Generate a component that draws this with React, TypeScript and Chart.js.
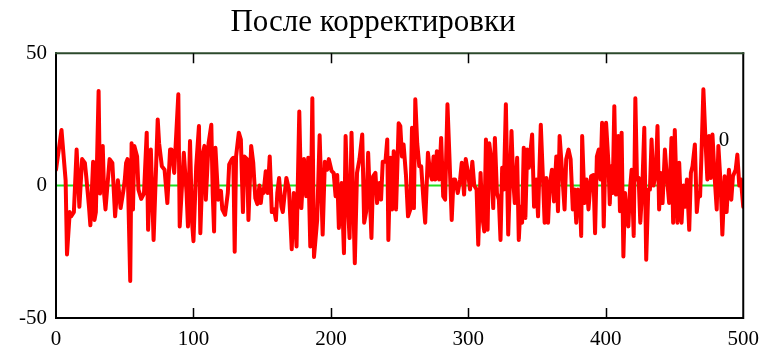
import React, { useEffect, useRef } from "react";
import { Chart, registerables } from "chart.js";

Chart.register(...registerables);

const TITLE = "После корректировки";
const X_TICKS = [0, 100, 200, 300, 400, 500];
const Y_TICKS = [-50, 0, 50];
const MARKER_LEVEL = 0;
const MARKER_LABEL = "0";
const MARKER_LABEL_AT = [486, 17];

const sampleX = [
  0, 4, 7, 8, 10, 11, 13, 15, 17, 19, 21, 22, 24, 25, 27, 28, 29, 31, 32, 34, 35, 36, 39, 41, 43, 45,
  47, 49, 50, 51, 52, 54, 55, 56, 57, 59, 60, 62, 64, 66, 67, 69, 71, 74, 75, 77, 79, 81, 83, 84, 86, 89, 90, 93, 95, 96,
  97.5, 99, 100, 102, 104, 105, 107, 108, 109, 111, 113, 114, 115, 116, 118, 120, 121, 123, 125, 126, 128, 129, 130, 131,
  133, 134.5, 136, 137, 139, 140, 142, 143.5, 145, 146.5, 148,
  149, 150, 151, 152.6, 154, 155.5, 157, 158.7, 160, 161, 162.3, 164, 165, 167.6, 169.5, 171.5, 173, 175, 177, 178.5,
  180.4, 182, 183.5, 185, 186.5, 187.7, 190, 191.8, 194, 195.6, 197.3, 198.5, 200.5,
  202, 203.4, 204.6, 205.8, 207.8, 209.5, 210.7, 212, 213.6, 215, 216.2, 217.4, 219, 220.8, 222.8, 224.2, 225.7, 227.1,
  229.5, 230.7, 232.4, 233.6, 235.3, 236.5, 237.7, 239.7, 241, 241.8, 243.3, 244.5, 245.7, 247.4, 249.3,
  250.5, 251.7, 252.9, 254.6, 256.1, 257.8, 259, 260.4, 261.4, 262.8, 264.3, 265.7, 267.4, 268.6, 270.6, 272.2, 273.5,
  274.7, 275.9, 277.1, 278.8, 280.2, 281.7, 283.1, 284.8, 286.3, 287.9, 289.2, 290.4, 292.3, 294, 295.2, 296.9, 298.1, 300,
  301.2, 302.9, 304.3, 306, 307.2, 308.9, 310.1, 311.6, 312.8, 314, 315.2, 316.4, 318.1, 319.3, 320.8, 322.2, 323.4,
  324.6, 325.8, 327.3, 329, 330.2, 331.4, 332.6, 333.8, 335.5, 336.7, 337.9, 339.1, 340.3, 341.5, 342.8, 344, 346.4,
  347.8, 349.5, 350.7, 352.7,
  354.3, 355.5, 356.7, 358, 359.2, 360.8, 362.3, 364, 365.2, 366.4, 368.1, 370, 371.2, 372.9, 374.4, 376, 377.3, 378.5,
  379.7, 381.1, 382.1, 382.8, 384.5, 386, 387.4, 389.3, 391, 392.2, 393.5, 394.9, 396.1, 397.3, 398.5, 400.2, 401.9, 402.9,
  403.8, 405, 406.2, 407.4, 409.1, 410.3, 411.5, 412.8, 414, 415.2, 416.4, 417.6, 418.8, 420.3, 421.5, 422.7, 423.9,
  425.1, 426.5, 428, 429.4, 430.9, 432.1, 433.3, 434.7, 436.4, 437.6, 438.8, 440, 441.3, 443, 444.4, 446.1, 447.8, 449,
  450.2, 452.1,
  453.4, 455.1, 456.5, 457.8, 459, 460.7, 461.9, 463.1, 464.8, 466.2, 467.4, 468.6, 469.6, 471, 472.7, 473.9, 475.1,
  476.4, 477.6, 479.3, 480.7, 481.9, 483.6, 484.8, 486.5, 487.9, 489.6, 491.3, 492.5, 494.5, 495.7, 497.1, 498.3, 500,
];

const sampleY = [
  6, 21, 2, -26, -10, -11.6, -10, 13.6, -8, 10, 8.6, 3.5, -8, -15, 9, -13, -10, 35.7, -3, 15, -3, -9, 10, 8.6, -11.6, 2,
  -8.5, -2, 2, 8.6, 10, -36, 16, -9, 15, 11, -1.5, -5, -3, 20, -16.7, 13.6, -20.5, 25, 16, 7.3, 6, -6.6, 13.6, 13.6, 4.8, 34.5, -15.4, 12.4, -2.8, -15.4,
  16.8, -14, -21, 7.3, 22.5, -18, 12.4, 15, -5.3, 16, 23, -2.8, -17.3, 14.3, -5.3, -2, -9, -11, -2.8, 8, 10, 10.5, -25, 11,
  20, 17.4, -10, 11, 10, -13, 15, 8.6, -4.7, -7, 0,
  -6.6, -1.5, -2.8, 5.4, -2.8, 11, -10, -9, -13, -2.8, 2.9, -8, -10, 2.9, -1.5, -24, -2.8, -23, 28, -8.5,
  10, -4, 10.5, -23, 33, -27, -13, 19, -18.5, 9, 6, 10, 5.5,
  4.8, -4, 4, -16, 1, -25.5, 18.7, -4, -19.8, 20, -4, -29.3, 4.8, 10, 19.3, -14, -9.7, 12.4,
  -19.8, 3.5, 4.8, -6.6, 1, -5.3, 9, 9, 17.4, -20.5, 10.5, -9, 13, -9, 23.5,
  22.5, 11, 15.5, 4, -11.6, -9, 21.8, -8.5, 32.6, 16, 7.3, 7.3, -6, -14, 12.4, 4.8, 2.3,
  11, 2.3, 13, 2.3, 18, -4, -5.3, 30.7, 10, -13, 2.3, 2.3, -2.8, 2.3, 8.6, -3.4, 10, 4,
  -1.5, 9, 0, -1.5, -22.3, 4.8, -11.6, -17.3, 17.4, -16.7, 16, 11, -8.5, 18, -2.8, -5.3, -20.5,
  6.7, -1.5, 30.7, -18.5, 1, 20.6, 2.3, -6.6, 10.5, -20.5, -8, -14, 14.3, -12.2, 13.6, 6.7, 19.3,
  -8, 2.3, -11.6, 23,
  2.3, -14, 2.9, -14, 0, 6, -6, 11, -9.7, 18.7, 6, -9, 10, 13.6, 10, -9, -1.5, -14,
  -1.5, -4, -19, 18.7, -6.6, 2.3, -9, 3.5, 4, -18, 11, 13.6, 2.3, 23.7, -15.4, 23.7, 8.6, -7,
  7.3, -2.8, 30, -3.4, 18.7, -9.7, 20, -26.8, -2.8, -11.6, -15.4, -1.5, 6, -19, 33, 2.3, 2.9,
  -14, -1.5, 21.8, -28, -1.5, -1.5, 17.4, 0, 4.8, 22.5, -9, 4.8, -6.6, 13.6, 3.5, -6.6, 18, -14,
  21, -14,
  8.6, -14, 0, -8, 2.3, -16.7, 4.8, 7.3, 15.5, -10, -2.8, -4, 11.7, 36.4, 15, 2.3, 18.7,
  2.9, 19.3, 2.3, -9, 15, 0, -18.5, 3.5, -10, 6, -5.3, 3.5, 6, 11.7, 0, 2.3, -8,
];

const FONT = "'Liberation Serif', 'Times New Roman', serif";

const framePlugin = {
  id: "frame",
  afterDatasetsDraw(chart: any) {
    const { ctx, chartArea: a, scales } = chart;
    const xs = scales.x;
    const ys = scales.y;
    ctx.save();
    ctx.lineCap = "square";
    ctx.lineWidth = 2;
    ctx.strokeStyle = "#000000";
    ctx.beginPath();
    ctx.moveTo(a.left, a.top);
    ctx.lineTo(a.left, a.bottom);
    ctx.lineTo(a.right, a.bottom);
    ctx.lineTo(a.right, a.top);
    ctx.stroke();
    ctx.strokeStyle = "#2c4a2c";
    ctx.beginPath();
    ctx.moveTo(a.left, a.top);
    ctx.lineTo(a.right, a.top);
    ctx.stroke();
    ctx.strokeStyle = "#000000";
    ctx.lineWidth = 1.5;
    ctx.lineCap = "butt";
    X_TICKS.slice(1, -1).forEach((v) => {
      const px = Math.round(xs.getPixelForValue(v)) + 0.5;
      ctx.beginPath();
      ctx.moveTo(px, a.bottom);
      ctx.lineTo(px, a.bottom - 10);
      ctx.moveTo(px, a.top);
      ctx.lineTo(px, a.top + 10);
      ctx.stroke();
    });
    ctx.fillStyle = "#000000";
    ctx.font = "21px " + FONT;
    ctx.textAlign = "center";
    ctx.textBaseline = "middle";
    ctx.fillText(
      MARKER_LABEL,
      xs.getPixelForValue(MARKER_LABEL_AT[0]),
      ys.getPixelForValue(MARKER_LABEL_AT[1])
    );
    ctx.restore();
  },
};

export default function App() {
  const ref = useRef<HTMLCanvasElement | null>(null);
  useEffect(() => {
    document.body.style.margin = "0";
    const canvas = ref.current!;
    const points = sampleX.map((x, i) => ({ x, y: sampleY[i] }));
    const chart = new Chart(canvas, {
      type: "line",
      data: {
        datasets: [
          {
            data: points,
            borderColor: "#ff0000",
            borderWidth: 4,
            borderJoinStyle: "round",
            borderCapStyle: "round",
            pointRadius: 0,
            tension: 0,
            order: 1,
          },
          {
            data: [
              { x: X_TICKS[0], y: MARKER_LEVEL },
              { x: X_TICKS[X_TICKS.length - 1], y: MARKER_LEVEL },
            ],
            borderColor: "#22dd22",
            borderWidth: 2,
            pointRadius: 0,
            order: 2,
          },
        ],
      },
      options: {
        animation: false,
        responsive: false,
        events: [],
        layout: { padding: { left: 0, right: 22, top: 0, bottom: 0 } },
        plugins: {
          legend: { display: false },
          tooltip: { enabled: false },
          title: {
            display: true,
            text: TITLE,
            color: "#000000",
            font: { family: FONT, size: 31, weight: "normal", lineHeight: 1.2 },
            padding: { top: 4, bottom: 12 },
          },
        },
        scales: {
          x: {
            type: "linear",
            min: X_TICKS[0],
            max: X_TICKS[X_TICKS.length - 1],
            grid: { display: false, drawTicks: false },
            border: { display: false },
            afterBuildTicks: (s: any) => {
              s.ticks = X_TICKS.map((v) => ({ value: v }));
            },
            afterFit: (s: any) => {
              s.height = 31;
            },
            ticks: {
              autoSkip: false,
              maxRotation: 0,
              padding: 9,
              color: "#000000",
              font: { family: FONT, size: 21 },
              callback: (v: any) => String(v),
            },
          },
          y: {
            type: "linear",
            min: Y_TICKS[0],
            max: Y_TICKS[Y_TICKS.length - 1],
            grid: { display: false, drawTicks: false },
            border: { display: false },
            afterBuildTicks: (s: any) => {
              s.ticks = Y_TICKS.map((v) => ({ value: v }));
            },
            afterFit: (s: any) => {
              s.width = 56;
            },
            ticks: {
              autoSkip: false,
              padding: 9,
              color: "#000000",
              font: { family: FONT, size: 21 },
              callback: (v: any) => String(v),
            },
          },
        },
      },
      plugins: [framePlugin],
    });
    return () => chart.destroy();
  }, []);
  return (
    <div style={{ position: "absolute", left: 0, top: 0, width: 768, height: 349, background: "#ffffff" }}>
      <canvas ref={ref} width={768} height={349} />
    </div>
  );
}
